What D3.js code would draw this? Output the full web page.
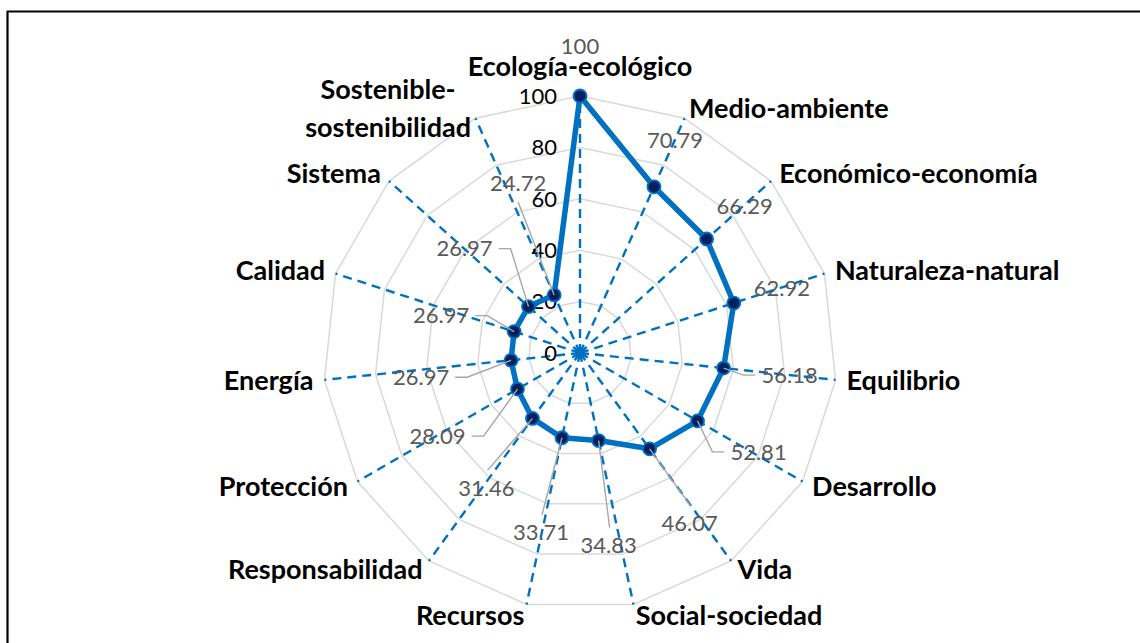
<!DOCTYPE html><html lang="es">
<head>
  <meta charset="UTF-8">
  <title>Radar</title>
  <script src="https://d3js.org/d3.v7.min.js"></script>
  <style>
    body { margin: 0; background: #fff; }
    svg { display: block; }
    .cat { font-family: Lato, sans-serif; font-weight: bold; font-size: 27px; fill: #000; }
    .val { font-family: Lato, sans-serif; font-size: 22px; fill: #595959; }
    .tick { font-family: Lato, sans-serif; font-size: 22px; fill: #000; }
  </style>
</head>
<body>
<svg width="1140" height="643"></svg>
<script>
const categories = [
  "Ecología-ecológico", "Medio-ambiente", "Económico-economía", "Naturaleza-natural",
  "Equilibrio", "Desarrollo", "Vida", "Social-sociedad", "Recursos", "Responsabilidad",
  "Protección", "Energía", "Calidad", "Sistema", "Sostenible-|sostenibilidad"
];
const values = [100, 70.79, 66.29, 62.92, 56.18, 52.81, 46.07, 34.83, 33.71, 31.46, 28.09, 26.97, 26.97, 26.97, 24.72];
const tickValues = [0, 20, 40, 60, 80, 100];

// where Excel put each data label, relative to its point, and how its leader line runs
const labelShift = [[0, -50], [21, -47], [38, -33], [48, -15], [66, 7], [61, 31], [40, 75], [10, 105],
  [-21, 95], [-46, 70], [-80, 47], [-90, 17], [-73, -16], [-64, -58], [-36, -112]];
const leaderKind = ["none", "none", "none", "none", "side", "side", "top", "top",
  "top", "top", "side", "side", "side", "side", "bottom"];

const cx = 580, cy = 353, R = 257;
const n = categories.length;

const svg = d3.select("svg");

// frame (top and left edges only are visible)
svg.append("line").attr("x1", 7).attr("x2", 1140).attr("y1", 11.5).attr("y2", 11.5)
  .attr("stroke", "#000").attr("stroke-width", 2.2);
svg.append("line").attr("x1", 7.5).attr("x2", 7.5).attr("y1", 11).attr("y2", 643)
  .attr("stroke", "#000").attr("stroke-width", 2.2);

const g = svg.append("g").attr("transform", `translate(${cx},${cy})`);

const r = d3.scaleLinear().domain([0, 100]).range([0, R]);
const angle = d3.scaleLinear().domain([0, n]).range([0, 2 * Math.PI]);
const pt = (i, v) => d3.pointRadial(angle(i), r(v));

// grid polygons
const ring = d3.lineRadial().angle((d, i) => angle(i)).radius(d => r(d)).curve(d3.curveLinearClosed);
g.selectAll("path.grid")
  .data(tickValues.filter(t => t > 0))
  .enter().append("path")
  .attr("class", "grid")
  .attr("d", t => ring(d3.range(n).map(() => t)))
  .attr("fill", "none")
  .attr("stroke", "#d9d9d9")
  .attr("stroke-width", 1.5);

// dashed spokes
g.selectAll("line.spoke")
  .data(d3.range(n))
  .enter().append("line")
  .attr("x1", 0).attr("y1", 0)
  .attr("x2", i => pt(i, 100)[0])
  .attr("y2", i => pt(i, 100)[1])
  .attr("stroke", "#0070c0")
  .attr("stroke-width", 2.4)
  .attr("stroke-dasharray", "9,6");

// axis tick labels
g.selectAll("text.tick")
  .data(tickValues)
  .enter().append("text")
  .attr("class", "tick")
  .attr("x", -23)
  .attr("y", t => -r(t))
  .attr("dy", "0.35em")
  .attr("text-anchor", "end")
  .text(t => t);

// series line
const line = d3.lineRadial().angle((d, i) => angle(i)).radius(d => r(d)).curve(d3.curveLinearClosed);
g.append("path")
  .attr("d", line(values))
  .attr("fill", "none")
  .attr("stroke", "#0070c0")
  .attr("stroke-width", 5.5)
  .attr("stroke-linejoin", "round");

g.selectAll("circle.mark")
  .data(values)
  .enter().append("circle")
  .attr("cx", (v, i) => pt(i, v)[0])
  .attr("cy", (v, i) => pt(i, v)[1])
  .attr("r", 6.5)
  .attr("fill", "#002060")
  .attr("stroke", "#0070c0")
  .attr("stroke-width", 1.8);

// data labels + leader lines
const vals = g.selectAll("text.val")
  .data(values)
  .enter().append("text")
  .attr("class", "val")
  .attr("x", (v, i) => pt(i, v)[0] + labelShift[i][0])
  .attr("y", (v, i) => pt(i, v)[1] + labelShift[i][1])
  .attr("dy", "0.35em")
  .attr("text-anchor", "middle")
  .text(v => v);

vals.each(function (v, i) {
  const kind = leaderKind[i];
  if (kind === "none") return;
  const [px, py] = pt(i, v);
  const lx = px + labelShift[i][0], ly = py + labelShift[i][1];
  const w = this.getComputedTextLength();
  let d;
  if (kind === "side") {
    const s = lx > px ? -1 : 1;
    const ex = lx + s * (w / 2 + 6);
    d = `M${ex},${ly}H${ex + s * 12}L${px},${py}`;
  } else if (kind === "top") {
    d = `M${lx + 1},${ly - 18}L${px},${py}`;
  } else {
    d = `M${lx},${ly + 19}L${px},${py}`;
  }
  g.insert("path", "text.val")
    .attr("d", d)
    .attr("fill", "none")
    .attr("stroke", "#a6a6a6")
    .attr("stroke-width", 1.4);
});

// category labels
categories.forEach((c, i) => {
  const a = angle(i);
  const [vx, vy] = pt(i, 100);
  const sx = Math.sin(a), cy0 = Math.cos(a);
  const lines = c.split("|");
  const t = g.append("text").attr("class", "cat");
  if (i === 0) {
    t.attr("x", vx).attr("y", vy - 29).attr("dy", "0.35em").attr("text-anchor", "middle").text(c);
    return;
  }
  const ax = vx + 11 * sx;
  const ay = vy - 11 * cy0;
  if (lines.length === 1) {
    t.attr("x", ax).attr("y", ay).attr("dy", "0.35em")
      .attr("text-anchor", sx > 0 ? "start" : "end").text(c);
  } else {
    const lh = 38;
    lines.forEach((s, k) => {
      t.append("tspan").attr("y", ay + (k - (lines.length - 1) / 2) * lh).attr("dy", "0.35em").text(s);
    });
    const w = d3.max(t.selectAll("tspan").nodes(), nd => nd.getComputedTextLength());
    const mx = sx > 0 ? ax + w / 2 : ax - w / 2;
    t.attr("text-anchor", "middle");
    t.selectAll("tspan").attr("x", mx);
  }
});
</script>
</body>
</html>
